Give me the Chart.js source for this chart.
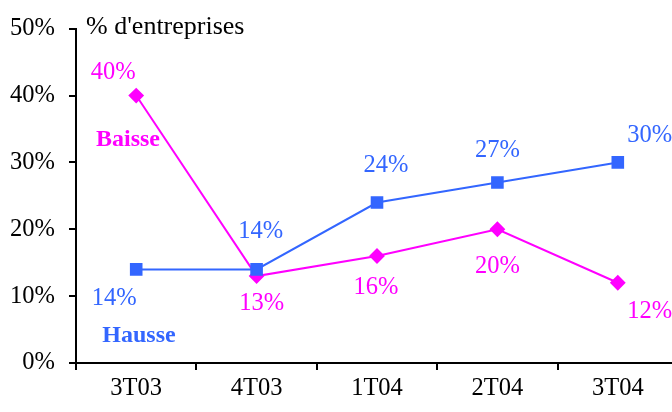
<!DOCTYPE html>
<html>
<head>
<meta charset="utf-8">
<script src="https://cdn.jsdelivr.net/npm/chart.js@4"></script>
<style>
  html, body { margin: 0; padding: 0; background: #fff; overflow: hidden; }
  #wrap { width: 690px; height: 412px; }
</style>
</head>
<body>
<div id="wrap"><canvas id="chart" width="690" height="412"></canvas></div>
<script>
const quarters = ['3T03', '4T03', '1T04', '2T04', '3T04'];
const hausse = [14, 14, 24, 27, 30];
const baisse = [40, 13, 16, 20, 12];
const yTicks = [0, 10, 20, 30, 40, 50];

const BLUE = '#3366FF';
const PINK = '#FF00FF';
const SERIF = '"Liberation Serif", "Times New Roman", serif';

// where each value label sits relative to its point (dx, dy in px)
const hausseLabelPos = [[-22, 29], [4, -38], [9, -37], [0, -32], [32, -27]];
const baisseLabelPos = [[-23, -23], [5, 27], [-1, 32], [0, 37], [32, 29]];

const textPlugin = {
  id: 'textPlugin',
  afterDatasetsDraw(chart) {
    const ctx = chart.ctx;
    ctx.save();
    ctx.textAlign = 'center';
    ctx.textBaseline = 'middle';
    ctx.font = '24.5px ' + SERIF;

    const sets = [[0, hausse, hausseLabelPos, BLUE], [1, baisse, baisseLabelPos, PINK]];
    sets.forEach(([idx, vals, pos, color]) => {
      const meta = chart.getDatasetMeta(idx);
      ctx.fillStyle = color;
      meta.data.forEach((pt, i) => {
        ctx.fillText(vals[i] + '%', pt.x + pos[i][0], pt.y + pos[i][1]);
      });
    });

    // series names
    ctx.font = 'bold 24px ' + SERIF;
    ctx.fillStyle = PINK;
    ctx.fillText('Baisse', 128, 140);
    ctx.fillStyle = BLUE;
    ctx.fillText('Hausse', 139, 336);

    // axis title
    ctx.font = '26px ' + SERIF;
    ctx.fillStyle = '#000';
    ctx.textAlign = 'left';
    ctx.fillText("% d'entreprises", 86, 27);
    ctx.restore();
  }
};

new Chart(document.getElementById('chart'), {
  type: 'line',
  data: {
    labels: quarters,
    datasets: [
      {
        label: 'Hausse',
        data: hausse,
        borderColor: BLUE,
        backgroundColor: BLUE,
        borderWidth: 2,
        pointStyle: 'rect',
        pointRadius: 7.5,
        pointHoverRadius: 7.5,
        tension: 0
      },
      {
        label: 'Baisse',
        data: baisse,
        borderColor: PINK,
        backgroundColor: PINK,
        borderWidth: 2,
        pointStyle: 'rectRot',
        pointRadius: 6.5,
        pointHoverRadius: 6.5,
        tension: 0
      }
    ]
  },
  options: {
    responsive: false,
    animation: false,
    events: [],
    layout: { padding: { left: 0, top: 27, right: 12, bottom: 0 } },
    plugins: {
      legend: { display: false },
      tooltip: { enabled: false }
    },
    scales: {
      x: {
        offset: true,
        grid: {
          display: true,
          drawOnChartArea: false,
          drawTicks: true,
          tickLength: 7,
          color: '#000',
          lineWidth: 2,
          offset: true
        },
        border: { display: true, color: '#000', width: 2 },
        ticks: {
          color: '#000',
          font: { family: SERIF, size: 24.5 },
          padding: 4,
          maxRotation: 0
        },
        afterFit(scale) { scale.height = 49; }
      },
      y: {
        min: 0,
        max: 50,
        afterBuildTicks(scale) { scale.ticks = yTicks.map(v => ({ value: v })); },
        grid: {
          display: true,
          drawOnChartArea: false,
          drawTicks: true,
          tickLength: 7,
          color: '#000',
          lineWidth: 2
        },
        border: { display: true, color: '#000', width: 2 },
        ticks: {
          color: '#000',
          font: { family: SERIF, size: 24.5 },
          padding: 14,
          callback: v => v + '%'
        },
        afterFit(scale) { scale.width = 76; }
      }
    }
  },
  plugins: [textPlugin]
});
</script>
</body>
</html>
